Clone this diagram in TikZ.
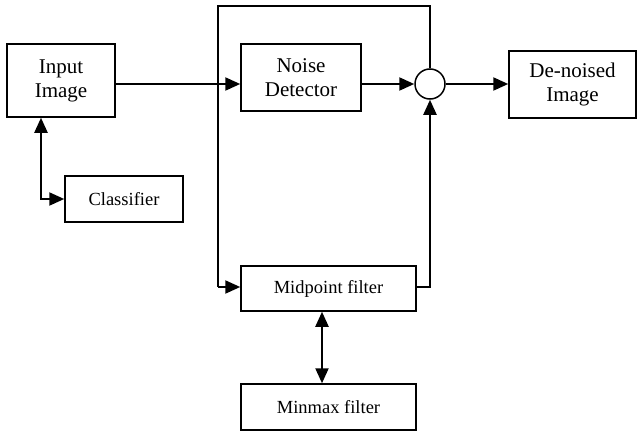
\documentclass[tikz,border=0pt]{standalone}
\usepackage{fontspec}
\setmainfont{Liberation Serif}
\usetikzlibrary{arrows.meta,calc}
\begin{document}
\begin{tikzpicture}[x=1pt,y=-1pt,
  blk/.style={draw,line width=1.5pt,inner sep=0pt,align=center},
  bigtxt/.style={font=\fontsize{21}{24}\selectfont},
  smalltxt/.style={font=\fontsize{18.5}{22}\selectfont},
  thinln/.style={line width=1.5pt},
  arr/.style={line width=2.2pt,-{Triangle[length=15pt,width=13pt]}},
  dbl/.style={line width=2.2pt,{Triangle[length=15pt,width=13pt]}-{Triangle[length=15pt,width=13pt]}}]
\useasboundingbox (0,0) rectangle (637,431);
\node[blk,bigtxt,minimum width=108,minimum height=73] (Input) at (61,80.5) {Input\\Image};
\node[blk,smalltxt,minimum width=118,minimum height=46] (Classifier) at (124,199) {Classifier};
\node[blk,bigtxt,minimum width=120,minimum height=67] (Noise) at (301,77.5) {Noise\\Detector};
\node[draw,circle,line width=1.5pt,minimum size=30,inner sep=0pt] (Sum) at (430,84) {};
\node[blk,bigtxt,minimum width=127,minimum height=67] (Denoised) at (572.5,84.5) {De-noised\\Image};
\node[blk,smalltxt,minimum width=175,minimum height=45] (Midpoint) at (328.5,288.5) {Midpoint filter};
\node[blk,smalltxt,minimum width=175,minimum height=46] (Minmax) at (328.5,407) {Minmax filter};
\coordinate (row) at (0,84);
\coordinate (topleft) at (218,6);
\coordinate (botleft) at (218,287);
% main path
\draw[arr] (Input.east |- row) -- (Noise.west |- row);
\draw[arr] (Noise.east |- row) -- (Sum.west);
\draw[arr] (Sum.east) -- (Denoised.west |- Sum.east);
% classifier
\draw[dbl] ([xshift=-20]Input.south) |- (Classifier.west);
% bypass loop
\draw[thinln] (Sum.north) |- (topleft) -- (botleft);
\draw[arr] (botleft) -- (Midpoint.west |- botleft);
\draw[arr] (Midpoint.east |- botleft) -| (Sum.south);
% midpoint <-> minmax
\draw[dbl] ([xshift=-6.5]Midpoint.south) -- ([xshift=-6.5]Minmax.north);
\end{tikzpicture}
\end{document}
